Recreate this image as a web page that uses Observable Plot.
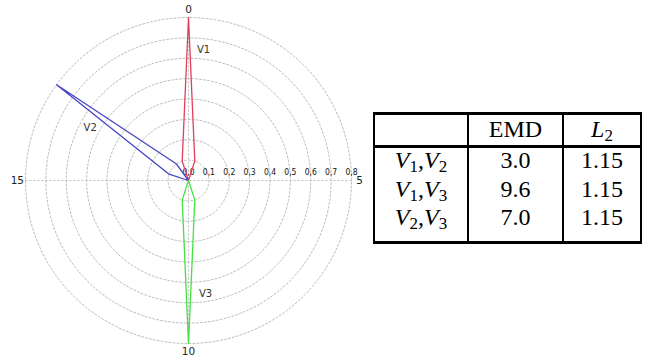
<!DOCTYPE html>
<html>
<head>
<meta charset="utf-8">
<script src="https://cdn.jsdelivr.net/npm/d3@7"></script>
<script src="https://cdn.jsdelivr.net/npm/@observablehq/plot@0.6"></script>
<style>
  html, body { margin: 0; padding: 0; background: #fff; }
  body { width: 656px; height: 362px; overflow: hidden; position: relative; }
  #chart { position: absolute; left: 0; top: 0; }
  #tbl {
    position: absolute; left: 373px; top: 112px;
    border-collapse: separate; border-spacing: 0;
    border-top: 3px solid #000; border-bottom: 3px solid #000;
    border-left: 2px solid #000; border-right: 2px solid #000;
    font-family: "Liberation Serif", "DejaVu Serif", serif; font-size: 24px; color: #000;
  }
  #tbl th, #tbl td { padding: 0; text-align: center; font-weight: normal; vertical-align: top; white-space: nowrap; }
  #tbl th { line-height: 28px; padding-bottom: 2px; border-bottom: 3px solid #000; }
  #tbl td { line-height: 22px; padding-top: 1px; padding-bottom: 5.5px; }
  #tbl tr.last td { padding-bottom: 13px; }
  #tbl .c1 { width: 92px; border-right: 2px solid #000; }
  #tbl .c2 { width: 93px; border-right: 2px solid #000; }
  #tbl .c3 { width: 76px; }
  #tbl i { font-style: italic; }
  #tbl sub { font-size: 17px; vertical-align: -4px; line-height: 0; }
</style>
</head>
<body>
<div id="chart"></div>
<table id="tbl"><thead></thead><tbody></tbody></table>
<script>
// ---- data ----
const bins = [0, 1, 2, 3, 4, 5, 6, 7, 8, 9, 10, 11, 12, 13, 14, 15, 16, 17, 18, 19];
const seriesNames = ["V1", "V2", "V3"];
const v1 = [0.8, 0.1, 0, 0, 0, 0, 0, 0, 0, 0, 0, 0, 0, 0, 0, 0, 0, 0, 0, 0.1];
const v2 = [0, 0, 0, 0, 0, 0, 0, 0, 0, 0, 0, 0, 0, 0, 0, 0, 0.1, 0.8, 0.1, 0];
const v3 = [0, 0, 0, 0, 0, 0, 0, 0, 0, 0.1, 0.8, 0.1, 0, 0, 0, 0, 0, 0, 0, 0];
const seriesColors = ["#e0405c", "#4444c8", "#44e044"];
const ringValues = [0.1, 0.2, 0.3, 0.4, 0.5, 0.6, 0.7, 0.8];
const radialTicks = [0, 0.1, 0.2, 0.3, 0.4, 0.5, 0.6, 0.7, 0.8];
const angleTicks = [0, 5, 10, 15];
const tableHeader = ["", "EMD", "L_2"];
const pairLabels = ["V_1,V_2", "V_1,V_3", "V_2,V_3"];
const emdValues = [3.0, 9.6, 7.0];
const l2Values = [1.15, 1.15, 1.15];

// ---- polar mapping via azimuthal projection ----
const nBins = bins.length;
const lon = (a) => 180 - a * (360 / nBins);
const lat = (r) => 90 - r;
const rMax = d3.max(ringValues);

const seriesValues = [v1, v2, v3];
const rows = [];
seriesValues.forEach((vals, i) => {
  bins.forEach((b, j) => rows.push({ s: seriesNames[i], a: b, r: vals[j] }));
  rows.push({ s: seriesNames[i], a: bins[0], r: vals[0] });
});
const peaks = seriesNames.map((s, i) => ({ s, a: bins[d3.maxIndex(seriesValues[i])] }));

const labelMark = (name, rr, dx, dy) =>
  Plot.text(peaks.filter((p) => p.s === name), {
    x: (d) => lon(d.a), y: lat(rr), text: "s", dx, dy,
    fontSize: 10, fill: "#333"
  });

const chart = Plot.plot({
  width: 376,
  height: 362,
  marginLeft: 25, marginRight: 25, marginTop: 17, marginBottom: 19,
  style: { background: "transparent", fontFamily: "DejaVu Sans", overflow: "visible" },
  projection: {
    type: "azimuthal-equidistant",
    rotate: [0, -90],
    clip: false,
    domain: d3.geoCircle().center([0, 90]).radius(rMax)()
  },
  color: { domain: seriesNames, range: seriesColors },
  marks: [
    Plot.geo(ringValues, {
      geometry: (r) => d3.geoCircle().center([0, 90]).radius(r).precision(2)(),
      stroke: "#b4b4b4", strokeWidth: 0.9, strokeDasharray: "2,2", fill: "none"
    }),
    Plot.link(angleTicks, {
      x1: (a) => lon(a), y1: lat(rMax), x2: (a) => lon(a), y2: 90,
      stroke: "#b4b4b4", strokeWidth: 0.9, strokeDasharray: "2,2"
    }),
    Plot.text(radialTicks, {
      x: lon(5), y: (r) => lat(r),
      text: (r) => d3.format(".1f")(r).replace(".", ","),
      dy: -8, fontSize: 8.5, fontFamily: "DejaVu Sans Condensed", fill: "#111"
    }),
    Plot.text(angleTicks, {
      x: (a) => lon(a), y: lat(0.84), text: (a) => String(a),
      fontSize: 10.5, fill: "#222"
    }),
    Plot.line(rows, {
      x: (d) => lon(d.a), y: (d) => lat(d.r), z: "s", stroke: "s",
      strokeWidth: 1.3
    }),
    labelMark("V1", 0.643, 15, 0),
    labelMark("V2", 0.542, -9, 12),
    labelMark("V3", 0.555, 17, 0)
  ]
});
document.getElementById("chart").appendChild(chart);

// ---- table ----
const mathHTML = (s) =>
  s.split(",").map((part) => {
    const [base, sub] = part.split("_");
    return sub ? `<i>${base}</i><sub>${sub}</sub>` : base;
  }).join(",");
const cls = ["c1", "c2", "c3"];
document.querySelector("#tbl thead").innerHTML =
  "<tr>" + tableHeader.map((h, i) => `<th class="${cls[i]}">${mathHTML(h)}</th>`).join("") + "</tr>";
document.querySelector("#tbl tbody").innerHTML = pairLabels.map((p, i) =>
  `<tr class="${i === pairLabels.length - 1 ? "last" : ""}">` +
  `<td class="c1">${mathHTML(p)}</td>` +
  `<td class="c2">${d3.format(".1f")(emdValues[i])}</td>` +
  `<td class="c3">${d3.format(".2f")(l2Values[i])}</td></tr>`
).join("");
</script>
</body>
</html>
